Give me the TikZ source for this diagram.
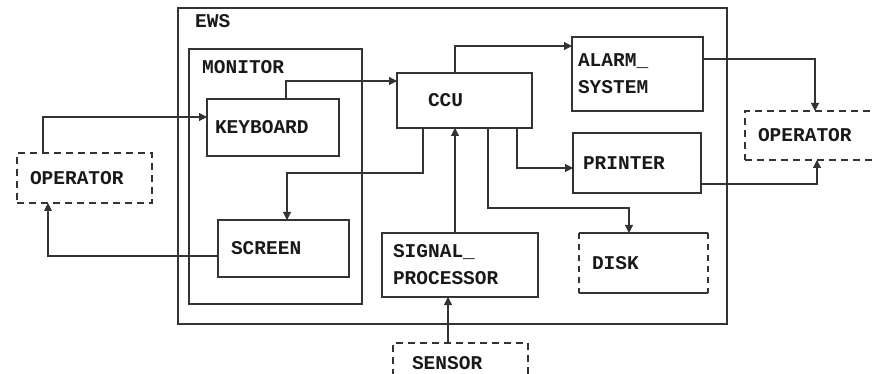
\documentclass[tikz,border=0pt]{standalone}
\usepackage{fontspec}
\setmonofont{Liberation Mono}
\usetikzlibrary{arrows.meta}
\definecolor{ln}{HTML}{333333}
\tikzset{
  lbl/.style={font=\ttfamily\bfseries\fontsize{19.5}{27}\selectfont, text=black!90},
  blk/.style={lbl, draw=ln, line width=1.1pt, anchor=north west, inner ysep=0pt, outer sep=0pt, align=left},
  dbox/.style={blk, dash pattern=on 7pt off 5pt},
  plain/.style={lbl, anchor=north west, inner ysep=0pt, outer sep=0pt, align=left},
  conn/.style={draw=ln, line width=1.1pt},
  arr/.style={conn, -{Triangle[length=8pt,width=8pt]}},
}
\begin{document}
\begin{tikzpicture}[x=1pt, y=-1pt]
\useasboundingbox (0,0) rectangle (873,374);
% containers
\node[draw=ln, line width=1.1pt, anchor=north west, minimum width=549pt, minimum height=316pt, inner sep=0pt, outer sep=0pt] (ews) at (178,8) {};
\node[lbl, anchor=west, inner sep=0pt] (ewsl) at (195,21) {EWS};
\node[draw=ln, line width=1.1pt, anchor=north west, minimum width=173pt, minimum height=255pt, inner sep=0pt, outer sep=0pt] (mon) at (189,49) {};
\node[lbl, anchor=west, inner sep=0pt] (monl) at (202,67) {MONITOR};
% blocks
\node[blk, minimum width=132pt, minimum height=57pt, inner xsep=8pt, text width=116pt] (kb) at (207,99) {KEYBOARD};
\node[blk, minimum width=131pt, minimum height=57pt, inner xsep=13pt, text width=105pt] (scr) at (218,220) {SCREEN};
\node[blk, minimum width=135pt, minimum height=55pt, inner xsep=31pt, text width=73pt] (ccu) at (397,73) {CCU};
\node[blk, minimum width=131pt, minimum height=74pt, inner xsep=6pt, text width=119pt] (alarm) at (572,37) {ALARM\_\\SYSTEM};
\node[blk, minimum width=128pt, minimum height=60pt, inner xsep=10pt, text width=108pt] (prn) at (573,133) {PRINTER};
\node[blk, minimum width=156pt, minimum height=64pt, inner xsep=11pt, text width=134pt] (sig) at (382,233) {SIGNAL\_\\PROCESSOR};
\node[plain, minimum width=129pt, minimum height=60pt, inner xsep=13pt, text width=103pt] (disk) at (579,233) {DISK};
\draw[conn] (disk.north west) -- (disk.north east);
\draw[conn] (disk.south west) -- (disk.south east);
\draw[conn, dash pattern=on 6pt off 5pt] (disk.north west) -- (disk.south west);
\draw[conn, dash pattern=on 6pt off 5pt] (disk.north east) -- (disk.south east);
% externals
\node[dbox, minimum width=135pt, minimum height=50pt, inner xsep=13pt, text width=109pt] (opl) at (17,153) {OPERATOR};
\node[dbox, minimum width=140pt, minimum height=49pt, inner xsep=13pt, text width=114pt] (opr) at (745,111) {OPERATOR};
\node[dbox, minimum width=135pt, minimum height=40pt, inner xsep=19pt, text width=97pt] (sen) at (393,343) {SENSOR};
% connectors
\draw[arr] ([xshift=26pt]opl.north west) |- ([yshift=10.5pt]kb.west);
\draw[arr] ([xshift=79pt]kb.north west) |- ([yshift=19.5pt]ccu.west);
\draw[arr] ([xshift=26pt]ccu.south west) -- ++(0,45) -| ([xshift=69pt]scr.north west);
\draw[arr] ([yshift=-7.5pt]scr.west) -| ([xshift=31pt]opl.south west);
\coordinate (s1) at ([xshift=55pt]sen.north west);
\draw[arr] (s1) -- (s1 |- sig.south);
\coordinate (s2) at ([xshift=73pt]sig.north west);
\draw[arr] (s2) -- (s2 |- ccu.south);
\draw[arr] ([xshift=58pt]ccu.north west) |- ([yshift=28pt]alarm.west);
\draw[arr] ([yshift=15pt]alarm.east) -| ([xshift=70pt]opr.north west);
\draw[arr] ([xshift=120pt]ccu.south west) |- ([yshift=-5pt]prn.west);
\draw[arr] ([yshift=-21pt]prn.east) -| ([xshift=72pt]opr.south west);
\draw[arr] ([xshift=91pt]ccu.south west) -- ++(0,80) -| ([xshift=50pt]disk.north west);
\end{tikzpicture}
\end{document}
